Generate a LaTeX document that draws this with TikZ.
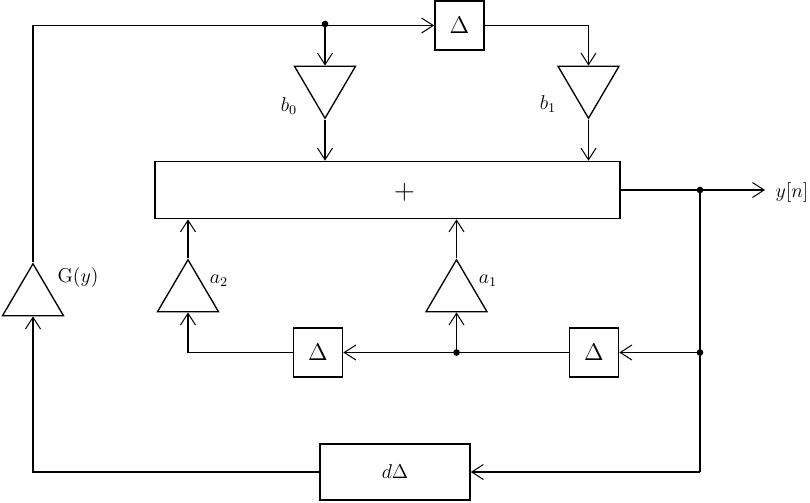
\documentclass[tikz,border=0pt]{standalone}
\usepackage{amsmath}
\usepackage{amssymb}
\usepackage{tikz}
\usetikzlibrary{shapes.geometric, arrows.meta}
\newcommand*{\delay}[1][]{\ensuremath{#1\Delta}}

\begin{document}
\begin{tikzpicture}[x=0.6pt, y=-0.6pt, line width=0.8pt,
    >={Straight Barb[length=7pt, width=9pt, line width=0.6pt]}]
      \useasboundingbox (0, 0) rectangle (810, 502);

      {\tikzstyle{every node}=[draw, rectangle, line width=1pt, inner sep=0pt]
        \node[minimum width=279pt, minimum height=34.2pt] (sum) at (387.5, 190) {};
        \node[minimum size=29.4pt, font=\Large] (d0) at (459.5, 25.5) {\delay};
        \node[minimum size=29.4pt, font=\Large] (d1) at (594, 352.5) {\delay};
        \node[minimum size=29.4pt, font=\Large] (d2) at (318, 352.5) {\delay};
        \node[minimum width=90pt, minimum height=33.6pt, font=\large] (dd) at (395, 472) {\delay[d]};
      }
      \node[font=\LARGE] (plus) at (404.5, 192) {$+$};

      {\tikzstyle{every node}=[draw, isosceles triangle, isosceles triangle stretches,
          minimum width=36.6pt, minimum height=31.2pt, inner sep=0pt, anchor=apex]
        \foreach \name/\x in {b0/325, b1/588.5}
        {
          \node[shape border rotate=270] (\name) at (\x, 120) {};
        }
        \foreach \name/\x in {a2/188, a1/456.5}
        {
          \node[shape border rotate=90] (\name) at (\x, 258) {};
        }
        \node[shape border rotate=90] (g) at (33, 262) {};
      }

      {\tikzstyle{every node}=[font=\large]
        \node (lb0) at (289, 106) {$b_0$};
        \node (lb1) at (548, 104) {$b_1$};
        \node (la2) at (219, 281) {$a_2$};
        \node (la1) at (488, 281) {$a_1$};
        \node (lg) at (78, 277) {$\mathrm{G}(y)$};
        \node (ly) at (792, 192) {$y[n]$};
      }

      \coordinate (p0) at (325, 24);
      \coordinate (p1) at (700, 190);
      \coordinate (p2) at (700, 352.5);
      \coordinate (p3) at (456.5, 352.5);
      \coordinate (p4) at (700, 472);
      \coordinate (yout) at (765, 190);

      % feed-forward part
      \draw[->] (g.apex) |- (d0.west);
      \draw[->] (p0) -- (b0.lower side);
      \draw[->] (d0.east) -| (b1.lower side);
      \draw[->] (b0.apex) -- (b0.apex |- sum.north);
      \draw[->] (b1.apex) -- (b1.apex |- sum.north);

      % output and feedback
      \draw[->] (sum.east) -- (yout);
      \draw (p1) -- (p4);
      \draw[->] (p2) -- (d1.east);
      \draw[->] (d1.west) -- (d2.east);
      \draw[->] (p3) -- (a1.lower side);
      \draw[->] (d2.west) -| (a2.lower side);
      \draw[->] (a1.apex) -- (a1.apex |- sum.south);
      \draw[->] (a2.apex) -- (a2.apex |- sum.south);
      \draw[->] (p4) -- (dd.east);
      \draw[->] (dd.west) -| (g.lower side);

      \foreach \p in {p0, p1, p2, p3}
      {
        \fill (\p) circle (2pt);
      }
    \end{tikzpicture}
\end{document}
